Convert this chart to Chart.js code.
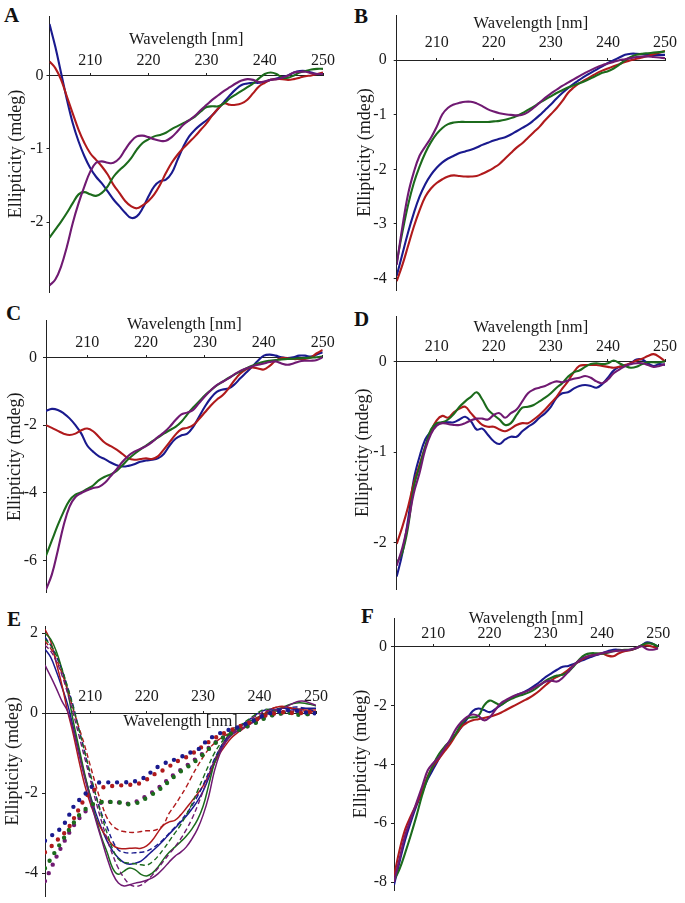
<!DOCTYPE html>
<html>
<head>
<meta charset="utf-8">
<title>CD spectra</title>
<script src="https://cdn.jsdelivr.net/npm/chart.js@4.4.1/dist/chart.umd.min.js"></script>
<style>
    html, body { margin: 0; padding: 0; background: #fff; }
    body { position: relative; width: 685px; height: 903px; overflow: hidden; }
    canvas { position: absolute; }
    .panel-letter {
        position: absolute;
        font: bold 21px "Liberation Serif", "Times New Roman", serif;
        color: #111;
        line-height: 1;
    }
</style>
</head>
<body>
<div class="panel-letter" style="left:4px;top:5px">A</div>
<div class="panel-letter" style="left:354px;top:6px">B</div>
<div class="panel-letter" style="left:6px;top:303px">C</div>
<div class="panel-letter" style="left:354px;top:309px">D</div>
<div class="panel-letter" style="left:7px;top:609px">E</div>
<div class="panel-letter" style="left:361px;top:606px">F</div>

<canvas id="chartA"></canvas>
<canvas id="chartB"></canvas>
<canvas id="chartC"></canvas>
<canvas id="chartD"></canvas>
<canvas id="chartE"></canvas>
<canvas id="chartF"></canvas>

<script>
// wavelengths (nm) for panels A-D, F
const wavelengths = [203, 204, 205, 206, 207, 208, 209, 210, 211, 212,
    213, 214, 215, 216, 217, 218, 219, 220, 221, 222,
    223, 224, 225, 226, 227, 228, 229, 230, 231, 232,
    233, 234, 235, 236, 237, 238, 239, 240, 241, 242,
    243, 244, 245, 246, 247, 248, 249, 250];
// panel E starts one nm earlier
const wavelengthsE = [202, 203, 204, 205, 206, 207, 208, 209, 210, 211,
    212, 213, 214, 215, 216, 217, 218, 219, 220, 221,
    222, 223, 224, 225, 226, 227, 228, 229, 230, 231,
    232, 233, 234, 235, 236, 237, 238, 239, 240, 241,
    242, 243, 244, 245, 246, 247, 248, 249, 250];

const xTicks = [210, 220, 230, 240, 250];
const yTicksA = [0, -1, -2];
const yTicksB = [0, -1, -2, -3, -4];
const yTicksC = [0, -2, -4, -6];
const yTicksD = [0, -1, -2];
const yTicksE = [2, 0, -2, -4];
const yTicksF = [0, -2, -4, -6, -8];

// ---- A ----
const aPurple = [-2.86, -2.78, -2.60, -2.33, -2.01, -1.74, -1.51, -1.31, -1.19, -1.17,
    -1.19, -1.19, -1.13, -1.01, -0.90, -0.83, -0.82, -0.84, -0.87, -0.89,
    -0.89, -0.84, -0.76, -0.67, -0.61, -0.55, -0.47, -0.40, -0.33, -0.27,
    -0.21, -0.16, -0.11, -0.07, -0.05, -0.06, -0.09, -0.08, -0.06, -0.05,
    -0.03, 0.00, 0.04, 0.05, 0.05, 0.03, 0.02, 0.02];
const aGreen = [-2.21, -2.10, -1.99, -1.87, -1.74, -1.62, -1.59, -1.62, -1.64, -1.60,
    -1.51, -1.38, -1.29, -1.22, -1.13, -1.01, -0.92, -0.87, -0.83, -0.81,
    -0.78, -0.73, -0.69, -0.65, -0.61, -0.56, -0.49, -0.43, -0.42, -0.42,
    -0.38, -0.31, -0.26, -0.21, -0.16, -0.11, -0.04, 0.02, 0.04, 0.02,
    -0.03, -0.03, 0.00, 0.04, 0.06, 0.08, 0.09, 0.09];
const aRed = [0.19, 0.10, -0.06, -0.29, -0.52, -0.74, -0.92, -1.06, -1.15, -1.24,
    -1.35, -1.49, -1.60, -1.71, -1.78, -1.81, -1.77, -1.71, -1.62, -1.49,
    -1.33, -1.19, -1.08, -0.99, -0.91, -0.83, -0.74, -0.65, -0.54, -0.45,
    -0.38, -0.40, -0.40, -0.38, -0.33, -0.24, -0.15, -0.10, -0.06, -0.05,
    -0.05, -0.06, -0.05, -0.03, -0.01, 0.00, 0.02, 0.04];
const aBlue = [0.70, 0.39, 0.03, -0.33, -0.65, -0.90, -1.10, -1.26, -1.38, -1.47,
    -1.58, -1.69, -1.78, -1.87, -1.94, -1.92, -1.81, -1.65, -1.51, -1.44,
    -1.42, -1.33, -1.15, -0.97, -0.83, -0.74, -0.67, -0.61, -0.54, -0.45,
    -0.36, -0.27, -0.19, -0.13, -0.11, -0.10, -0.10, -0.09, -0.06, -0.04,
    -0.02, 0.00, 0.04, 0.06, 0.06, 0.04, 0.02, 0.02];

// ---- B ----
const bPurple = [-3.75, -3.05, -2.45, -2.05, -1.75, -1.58, -1.42, -1.22, -0.99, -0.87,
    -0.81, -0.78, -0.76, -0.76, -0.79, -0.84, -0.90, -0.94, -0.97, -0.99,
    -1.00, -1.01, -1.00, -0.95, -0.87, -0.78, -0.69, -0.61, -0.54, -0.47,
    -0.41, -0.35, -0.29, -0.23, -0.18, -0.13, -0.09, -0.06, -0.03, 0.00,
    0.02, 0.04, 0.06, 0.07, 0.07, 0.06, 0.05, 0.04];
const bGreen = [-3.70, -3.15, -2.65, -2.25, -1.95, -1.70, -1.50, -1.35, -1.24, -1.17,
    -1.14, -1.13, -1.13, -1.13, -1.13, -1.13, -1.13, -1.12, -1.11, -1.09,
    -1.06, -1.02, -0.97, -0.91, -0.85, -0.78, -0.72, -0.66, -0.60, -0.55,
    -0.50, -0.46, -0.42, -0.38, -0.33, -0.28, -0.23, -0.20, -0.15, -0.08,
    0.00, 0.06, 0.10, 0.12, 0.13, 0.14, 0.15, 0.16];
const bRed = [-4.05, -3.75, -3.40, -3.05, -2.75, -2.50, -2.35, -2.25, -2.18, -2.13,
    -2.11, -2.12, -2.13, -2.13, -2.12, -2.08, -2.03, -1.97, -1.90, -1.80,
    -1.70, -1.60, -1.52, -1.42, -1.32, -1.22, -1.10, -0.99, -0.88, -0.75,
    -0.60, -0.50, -0.42, -0.36, -0.30, -0.24, -0.19, -0.15, -0.11, -0.07,
    -0.03, 0.00, 0.03, 0.05, 0.08, 0.11, 0.14, 0.17];
const bBlue = [-3.95, -3.55, -3.15, -2.80, -2.50, -2.27, -2.10, -1.97, -1.87, -1.80,
    -1.75, -1.70, -1.67, -1.64, -1.60, -1.55, -1.51, -1.47, -1.44, -1.41,
    -1.36, -1.30, -1.24, -1.18, -1.10, -1.01, -0.91, -0.81, -0.70, -0.60,
    -0.51, -0.43, -0.36, -0.29, -0.23, -0.17, -0.11, -0.05, 0.00, 0.05,
    0.10, 0.12, 0.12, 0.11, 0.10, 0.10, 0.10, 0.10];

// ---- C ----
const cPurple = [-6.85, -6.40, -5.70, -4.95, -4.40, -4.12, -4.00, -3.92, -3.85, -3.82,
    -3.70, -3.50, -3.30, -3.08, -2.90, -2.78, -2.70, -2.62, -2.50, -2.35,
    -2.22, -2.05, -1.85, -1.68, -1.63, -1.55, -1.35, -1.15, -0.97, -0.82,
    -0.72, -0.62, -0.50, -0.40, -0.33, -0.27, -0.22, -0.18, -0.14, -0.12,
    -0.18, -0.22, -0.18, -0.12, -0.10, -0.10, -0.08, 0.00];
const cGreen = [-5.85, -5.40, -4.95, -4.55, -4.22, -4.05, -3.98, -3.88, -3.78, -3.62,
    -3.52, -3.45, -3.35, -3.18, -3.00, -2.85, -2.72, -2.60, -2.48, -2.37,
    -2.25, -2.15, -2.05, -1.90, -1.68, -1.48, -1.30, -1.12, -0.97, -0.83,
    -0.72, -0.61, -0.51, -0.42, -0.33, -0.25, -0.18, -0.13, -0.10, -0.08,
    -0.06, -0.05, -0.04, -0.03, -0.02, -0.01, 0.00, 0.02];
const cRed = [-2.00, -2.08, -2.17, -2.25, -2.29, -2.25, -2.15, -2.10, -2.18, -2.35,
    -2.52, -2.62, -2.72, -2.85, -2.98, -3.02, -3.00, -2.98, -3.00, -2.92,
    -2.72, -2.50, -2.28, -2.12, -2.08, -2.00, -1.82, -1.62, -1.42, -1.25,
    -1.12, -0.92, -0.68, -0.48, -0.35, -0.30, -0.33, -0.36, -0.25, -0.10,
    -0.02, -0.03, -0.05, -0.05, -0.05, 0.00, 0.12, 0.22];
const cBlue = [-1.58, -1.52, -1.55, -1.65, -1.80, -2.00, -2.25, -2.60, -2.78, -2.92,
    -3.00, -3.10, -3.18, -3.22, -3.20, -3.15, -3.08, -3.04, -3.02, -2.98,
    -2.85, -2.60, -2.40, -2.30, -2.25, -2.05, -1.75, -1.45, -1.20, -1.02,
    -0.95, -0.92, -0.80, -0.62, -0.45, -0.28, -0.10, 0.05, 0.08, 0.05,
    0.00, -0.02, 0.00, 0.05, 0.05, 0.02, 0.08, 0.15];

// ---- D ----
const dPurple = [-2.25, -2.05, -1.78, -1.45, -1.23, -0.97, -0.80, -0.71, -0.68, -0.69,
    -0.70, -0.70, -0.68, -0.65, -0.63, -0.63, -0.64, -0.59, -0.57, -0.62,
    -0.57, -0.53, -0.44, -0.35, -0.31, -0.29, -0.27, -0.24, -0.22, -0.23,
    -0.21, -0.19, -0.18, -0.16, -0.18, -0.22, -0.24, -0.20, -0.13, -0.09,
    -0.05, -0.03, -0.02, -0.02, -0.04, -0.06, -0.05, -0.03];
const dGreen = [-2.22, -2.10, -1.82, -1.38, -1.16, -0.94, -0.75, -0.68, -0.67, -0.64,
    -0.58, -0.50, -0.44, -0.39, -0.34, -0.42, -0.53, -0.59, -0.64, -0.70,
    -0.68, -0.59, -0.51, -0.50, -0.48, -0.44, -0.40, -0.35, -0.29, -0.24,
    -0.17, -0.12, -0.10, -0.06, -0.03, -0.02, -0.03, -0.02, 0.01, -0.02,
    -0.05, -0.07, -0.06, -0.03, -0.01, -0.01, -0.01, 0.00];
const dRed = [-2.01, -1.82, -1.60, -1.34, -1.14, -0.94, -0.77, -0.65, -0.60, -0.62,
    -0.56, -0.52, -0.50, -0.57, -0.64, -0.70, -0.72, -0.72, -0.75, -0.77,
    -0.74, -0.70, -0.68, -0.68, -0.64, -0.59, -0.53, -0.46, -0.39, -0.30,
    -0.22, -0.12, -0.05, -0.04, -0.04, -0.04, -0.05, -0.06, -0.07, -0.06,
    -0.04, -0.02, 0.01, 0.03, 0.06, 0.08, 0.05, 0.00];
const dBlue = [-2.37, -2.11, -1.74, -1.30, -1.05, -0.86, -0.77, -0.70, -0.67, -0.67,
    -0.67, -0.64, -0.61, -0.66, -0.75, -0.74, -0.81, -0.88, -0.91, -0.86,
    -0.83, -0.83, -0.77, -0.72, -0.68, -0.62, -0.57, -0.50, -0.40, -0.35,
    -0.34, -0.30, -0.27, -0.26, -0.27, -0.29, -0.25, -0.18, -0.10, -0.06,
    -0.05, -0.02, 0.02, 0.02, -0.02, -0.05, -0.03, -0.04];

// ---- E (solid, dashed, dotted per colour) ----
const ePurple = [1.20, 0.92, 0.62, 0.30, 0.05, -0.42, -1.02, -1.60, -2.15, -2.68,
    -3.15, -3.62, -4.02, -4.25, -4.32, -4.29, -4.25, -4.22, -4.18, -4.12,
    -4.02, -3.88, -3.72, -3.58, -3.48, -3.35, -3.15, -2.90, -2.55, -2.08,
    -1.45, -1.00, -0.72, -0.55, -0.45, -0.38, -0.30, -0.22, -0.14, -0.05,
    0.02, 0.08, 0.12, 0.18, 0.25, 0.30, 0.30, 0.25, 0.20];
const eGreen = [2.00, 1.85, 1.55, 1.10, 0.55, -0.20, -0.85, -1.50, -2.07, -2.62,
    -3.10, -3.48, -3.88, -4.03, -3.95, -3.87, -3.92, -4.03, -4.07, -4.00,
    -3.85, -3.65, -3.48, -3.35, -3.22, -3.08, -2.90, -2.67, -2.33, -1.80,
    -1.25, -0.88, -0.65, -0.48, -0.38, -0.30, -0.22, -0.15, -0.08, -0.02,
    0.03, 0.08, 0.14, 0.20, 0.24, 0.26, 0.25, 0.22, 0.18];
const eRed = [2.10, 1.80, 1.25, 0.70, 0.05, -0.52, -1.18, -1.78, -2.25, -2.62,
    -2.90, -3.12, -3.30, -3.38, -3.39, -3.38, -3.37, -3.38, -3.32, -3.18,
    -2.98, -2.80, -2.72, -2.68, -2.55, -2.38, -2.20, -2.02, -1.82, -1.55,
    -1.25, -1.00, -0.80, -0.62, -0.50, -0.40, -0.30, -0.20, -0.10, 0.00,
    0.10, 0.15, 0.17, 0.15, 0.12, 0.10, 0.08, 0.08, 0.08];
const eBlue = [1.60, 1.40, 1.05, 0.65, 0.22, -0.35, -0.95, -1.55, -2.05, -2.50,
    -2.88, -3.20, -3.45, -3.62, -3.74, -3.78, -3.75, -3.70, -3.58, -3.45,
    -3.32, -3.18, -3.02, -2.88, -2.73, -2.58, -2.40, -2.20, -1.95, -1.62,
    -1.25, -0.95, -0.72, -0.55, -0.45, -0.37, -0.28, -0.20, -0.12, -0.02,
    0.05, 0.10, 0.12, 0.12, 0.10, 0.10, 0.12, 0.12, 0.12];

const ePurpleDashed = [1.70, 1.55, 1.30, 0.95, 0.50, 0.00, -0.55, -1.10, -1.65, -2.20,
    -2.70, -3.15, -3.55, -3.88, -4.12, -4.28, -4.33, -4.30, -4.20, -4.05,
    -3.88, -3.70, -3.52, -3.35, -3.15, -2.92, -2.65, -2.32, -1.95, -1.55,
    -1.18, -0.90, -0.68, -0.52, -0.40, -0.30, -0.20, -0.10, -0.02, 0.05,
    0.08, 0.08, 0.06, 0.05, 0.06, 0.08, 0.06, 0.03, 0.02];
const eGreenDashed = [1.85, 1.70, 1.45, 1.10, 0.65, 0.15, -0.40, -0.95, -1.50, -2.05,
    -2.55, -3.00, -3.40, -3.65, -3.73, -3.75, -3.77, -3.79, -3.80, -3.72,
    -3.58, -3.40, -3.20, -3.00, -2.80, -2.55, -2.28, -1.95, -1.62, -1.30,
    -1.00, -0.78, -0.60, -0.47, -0.36, -0.26, -0.16, -0.06, 0.04, 0.10,
    0.08, 0.05, 0.02, 0.02, 0.04, 0.06, 0.05, 0.02, 0.00];
const eRedDashed = [1.80, 1.62, 1.35, 1.00, 0.58, 0.10, -0.35, -0.80, -1.30, -1.80,
    -2.25, -2.62, -2.82, -2.92, -2.96, -2.98, -2.98, -2.96, -2.94, -2.94,
    -2.90, -2.78, -2.50, -2.30, -2.08, -1.85, -1.58, -1.33, -1.10, -0.90,
    -0.75, -0.64, -0.55, -0.48, -0.42, -0.35, -0.27, -0.18, -0.08, 0.02,
    0.10, 0.15, 0.16, 0.14, 0.10, 0.07, 0.05, 0.04, 0.03];
const eBlueDashed = [1.90, 1.70, 1.42, 1.08, 0.65, 0.18, -0.40, -0.95, -1.55, -2.05,
    -2.50, -2.85, -3.20, -3.42, -3.48, -3.50, -3.49, -3.48, -3.45, -3.38,
    -3.28, -3.15, -3.00, -2.85, -2.70, -2.52, -2.32, -2.08, -1.80, -1.48,
    -1.15, -0.88, -0.66, -0.50, -0.38, -0.28, -0.18, -0.08, 0.02, 0.08,
    0.10, 0.10, 0.10, 0.12, 0.15, 0.15, 0.12, 0.08, 0.05];

const ePurpleDotted = [-4.20, -3.90, -3.60, -3.32, -3.06, -2.83, -2.64, -2.48, -2.36, -2.28,
    -2.24, -2.22, -2.22, -2.23, -2.25, -2.26, -2.22, -2.15, -2.07, -1.98,
    -1.88, -1.76, -1.63, -1.52, -1.42, -1.32, -1.22, -1.11, -1.00, -0.87,
    -0.75, -0.65, -0.57, -0.50, -0.44, -0.38, -0.32, -0.25, -0.18, -0.11,
    -0.06, -0.03, 0.00, 0.02, 0.02, 0.00, -0.02, -0.02, -0.02];
const eGreenDotted = [-3.88, -3.65, -3.42, -3.20, -2.97, -2.76, -2.56, -2.42, -2.31, -2.25,
    -2.22, -2.22, -2.22, -2.23, -2.26, -2.28, -2.26, -2.20, -2.12, -2.03,
    -1.94, -1.82, -1.70, -1.57, -1.46, -1.37, -1.27, -1.16, -1.04, -0.90,
    -0.77, -0.66, -0.57, -0.50, -0.44, -0.38, -0.32, -0.26, -0.20, -0.12,
    -0.06, -0.03, 0.00, 0.02, -0.02, -0.04, -0.03, -0.02, -0.02];
const eRedDotted = [-3.48, -3.35, -3.20, -3.06, -2.90, -2.66, -2.40, -2.15, -1.98, -1.90,
    -1.86, -1.84, -1.82, -1.81, -1.80, -1.79, -1.78, -1.74, -1.66, -1.56,
    -1.48, -1.42, -1.33, -1.24, -1.16, -1.10, -1.02, -0.92, -0.82, -0.72,
    -0.63, -0.55, -0.48, -0.42, -0.36, -0.30, -0.25, -0.20, -0.12, -0.06,
    -0.02, 0.00, 0.02, 0.02, 0.00, 0.00, 0.02, 0.03, 0.02];
const eBlueDotted = [-3.19, -3.08, -2.97, -2.85, -2.62, -2.35, -2.18, -2.04, -1.88, -1.76,
    -1.73, -1.73, -1.73, -1.73, -1.73, -1.72, -1.70, -1.66, -1.56, -1.45,
    -1.34, -1.27, -1.20, -1.16, -1.10, -1.03, -0.97, -0.92, -0.78, -0.65,
    -0.57, -0.50, -0.44, -0.40, -0.36, -0.30, -0.25, -0.18, -0.10, -0.05,
    0.00, 0.03, 0.05, 0.07, 0.07, 0.05, 0.02, 0.00, 0.00];

// ---- F ----
const fPurple = [-8.00, -7.20, -6.40, -5.85, -5.30, -4.75, -4.20, -3.95, -3.75, -3.45,
    -3.15, -2.80, -2.55, -2.38, -2.30, -2.35, -2.50, -2.40, -2.15, -1.92,
    -1.80, -1.70, -1.62, -1.55, -1.48, -1.38, -1.28, -1.18, -1.15, -1.18,
    -1.05, -0.85, -0.62, -0.45, -0.35, -0.30, -0.26, -0.22, -0.18, -0.15,
    -0.13, -0.12, -0.10, -0.05, 0.02, -0.08, -0.10, -0.05];
const fGreen = [-7.95, -7.55, -7.00, -6.40, -5.75, -5.05, -4.45, -4.00, -3.65, -3.40,
    -3.20, -2.95, -2.62, -2.42, -2.40, -2.35, -2.00, -1.83, -1.90, -1.98,
    -1.85, -1.76, -1.68, -1.62, -1.55, -1.45, -1.30, -1.15, -1.05, -0.98,
    -0.95, -0.85, -0.65, -0.42, -0.27, -0.22, -0.22, -0.23, -0.20, -0.15,
    -0.12, -0.10, -0.10, -0.05, 0.05, 0.12, 0.10, 0.00];
const fRed = [-7.80, -6.90, -6.20, -5.75, -5.35, -4.90, -4.40, -4.05, -3.80, -3.55,
    -3.30, -3.00, -2.72, -2.58, -2.50, -2.46, -2.42, -2.38, -2.32, -2.24,
    -2.14, -2.04, -1.94, -1.84, -1.74, -1.62, -1.47, -1.30, -1.14, -1.02,
    -0.92, -0.78, -0.62, -0.48, -0.37, -0.30, -0.25, -0.23, -0.30, -0.32,
    -0.22, -0.15, -0.12, -0.05, 0.03, 0.05, 0.00, -0.06];
const fBlue = [-8.10, -7.30, -6.55, -5.95, -5.40, -4.95, -4.50, -4.15, -3.80, -3.45,
    -3.20, -2.98, -2.72, -2.45, -2.18, -2.10, -2.15, -2.22, -2.12, -1.98,
    -1.85, -1.72, -1.62, -1.55, -1.45, -1.32, -1.18, -1.02, -0.90, -0.78,
    -0.68, -0.65, -0.58, -0.50, -0.42, -0.35, -0.28, -0.22, -0.15, -0.10,
    -0.10, -0.12, -0.10, -0.05, 0.05, 0.15, 0.10, 0.00];

const PURPLE = "#701a72";
const GREEN = "#1c6b1c";
const RED = "#b01a1c";
const BLUE = "#1a1a8e";
const AXIS = "#222";
const TEXT = "#1a1a1a";
const SERIF = "'Liberation Serif', 'Times New Roman', serif";

// page placement of each panel: canvas box [x, y, w, h], plot area [left, top, right, bottom]
const panels = {
    A: { id: "chartA", box: [0, 0, 340, 300], area: [49.5, 16, 323, 292], xRange: [203, 250], yRange: [-2.95, 0.81],
         xTickPad: -20.9, xTitlePad: 25.4, yTickPad: 3, yTitlePad: 5.9 },
    B: { id: "chartB", box: [340, 0, 345, 300], area: [396.7, 15, 665, 290], xRange: [203, 250], yRange: [-4.21, 0.83],
         xTickPad: -23.6, xTitlePad: 27.1, yTickPad: 7, yTitlePad: 14.2 },
    C: { id: "chartC", box: [0, 300, 340, 300], area: [46, 320.7, 322.7, 592.7], xRange: [203, 250], yRange: [-6.94, 1.08],
         xTickPad: -21.2, xTitlePad: 22.4, yTickPad: 6, yTitlePad: 4.2 },
    D: { id: "chartD", box: [340, 300, 345, 300], area: [396.7, 316, 665, 589.3], xRange: [203, 250], yRange: [-2.51, 0.50],
         xTickPad: -21.6, xTitlePad: 23.5, yTickPad: 7, yTitlePad: 12.5 },
    E: { id: "chartE", box: [0, 600, 340, 303], area: [45, 626, 316, 896.7], xRange: [202, 250], yRange: [-4.59, 2.18],
         xTickPad: -23.2, xTitlePad: -18.3, yTickPad: 4, yTitlePad: 2.5 },
    F: { id: "chartF", box: [340, 600, 345, 303], area: [394, 618, 658.3, 890], xRange: [203, 250], yRange: [-8.27, 0.98],
         xTickPad: -20, xTitlePad: 18.5, yTickPad: 4, yTitlePad: 10.9 }
};

document.addEventListener("DOMContentLoaded", () => {
    renderPanel(panels.A, fourLines(wavelengths, aPurple, aGreen, aRed, aBlue, 2.1), yTicksA);
    renderPanel(panels.B, fourLines(wavelengths, bPurple, bGreen, bRed, bBlue, 2.1), yTicksB);
    renderPanel(panels.C, fourLines(wavelengths, cPurple, cGreen, cRed, cBlue, 2.1), yTicksC);
    renderPanel(panels.D, fourLines(wavelengths, dPurple, dGreen, dRed, dBlue, 2.1), yTicksD);
    renderPanel(panels.E, panelESets(), yTicksE);
    renderPanel(panels.F, fourLines(wavelengths, fPurple, fGreen, fRed, fBlue, 2.1), yTicksF);
});

function lineSet(xs, ys, color, extra) {
    return Object.assign({
        data: xs.map((x, i) => ({ x: x, y: ys[i] })),
        borderColor: color,
        borderWidth: 2,
        pointRadius: 0,
        tension: 0.4,
        fill: false
    }, extra || {});
}

function fourLines(xs, purple, green, red, blue, width) {
    return [
        lineSet(xs, purple, PURPLE, { borderWidth: width }),
        lineSet(xs, green, GREEN, { borderWidth: width }),
        lineSet(xs, red, RED, { borderWidth: width }),
        lineSet(xs, blue, BLUE, { borderWidth: width })
    ];
}

function panelESets() {
    const dotted = { borderDash: [0, 9], borderCapStyle: "round", borderWidth: 4.4 };
    const dashed = { borderDash: [5, 3], borderWidth: 1.4 };
    const solid = { borderWidth: 1.5 };
    return [
        lineSet(wavelengthsE, eBlueDotted, BLUE, dotted),
        lineSet(wavelengthsE, eRedDotted, RED, dotted),
        lineSet(wavelengthsE, eGreenDotted, GREEN, dotted),
        lineSet(wavelengthsE, ePurpleDotted, PURPLE, dotted),
        lineSet(wavelengthsE, ePurpleDashed, PURPLE, dashed),
        lineSet(wavelengthsE, eGreenDashed, GREEN, dashed),
        lineSet(wavelengthsE, eRedDashed, RED, dashed),
        lineSet(wavelengthsE, eBlueDashed, BLUE, dashed),
        lineSet(wavelengthsE, ePurple, PURPLE, solid),
        lineSet(wavelengthsE, eGreen, GREEN, solid),
        lineSet(wavelengthsE, eRed, RED, solid),
        lineSet(wavelengthsE, eBlue, BLUE, solid)
    ];
}

function renderPanel(p, datasets, yTicks) {
    const canvas = document.getElementById(p.id);
    const [bx, by, bw, bh] = p.box;
    const [al, at, ar, ab] = p.area;
    canvas.width = bw;
    canvas.height = bh;
    canvas.style.left = bx + "px";
    canvas.style.top = by + "px";
    const yAxisWidth = al - bx;

    new Chart(canvas.getContext("2d"), {
        type: "line",
        data: { datasets: datasets },
        options: {
            responsive: false,
            animation: false,
            devicePixelRatio: 1,
            events: [],
            layout: {
                autoPadding: false,
                padding: { left: 0, top: at - by, right: bx + bw - ar, bottom: by + bh - ab }
            },
            plugins: {
                legend: { display: false },
                tooltip: { enabled: false }
            },
            scales: {
                x: {
                    type: "linear",
                    position: { y: 0 },
                    min: p.xRange[0],
                    max: p.xRange[1],
                    afterBuildTicks: (s) => { s.ticks = xTicks.map((v) => ({ value: v })); },
                    afterFit: (s) => { s.height = 0; s.paddingLeft = 0; s.paddingRight = 0; },
                    grid: { display: true, drawOnChartArea: false, drawTicks: true, tickLength: -3, tickColor: AXIS },
                    border: { display: true, color: AXIS, width: 1 },
                    ticks: {
                        padding: p.xTickPad,
                        color: TEXT,
                        maxRotation: 0,
                        autoSkip: false,
                        font: { family: SERIF, size: 16 },
                        callback: (v) => String(v)
                    },
                    title: {
                        display: true,
                        text: "Wavelength [nm]",
                        color: TEXT,
                        font: { family: SERIF, size: 16.5 },
                        padding: { top: 0, bottom: p.xTitlePad }
                    }
                },
                y: {
                    type: "linear",
                    position: "left",
                    min: p.yRange[0],
                    max: p.yRange[1],
                    afterBuildTicks: (s) => { s.ticks = yTicks.map((v) => ({ value: v })); },
                    afterFit: (s) => { s.width = yAxisWidth; s.paddingTop = 0; s.paddingBottom = 0; },
                    grid: { display: true, drawOnChartArea: false, drawTicks: true, tickLength: 3, tickColor: AXIS },
                    border: { display: true, color: AXIS, width: 1 },
                    ticks: {
                        padding: p.yTickPad,
                        color: TEXT,
                        font: { family: SERIF, size: 16 },
                        callback: (v) => String(v)
                    },
                    title: {
                        display: true,
                        text: "Ellipticity (mdeg)",
                        color: TEXT,
                        font: { family: SERIF, size: 18 },
                        padding: { top: p.yTitlePad, bottom: 0 }
                    }
                }
            }
        }
    });
}
</script>
</body>
</html>
